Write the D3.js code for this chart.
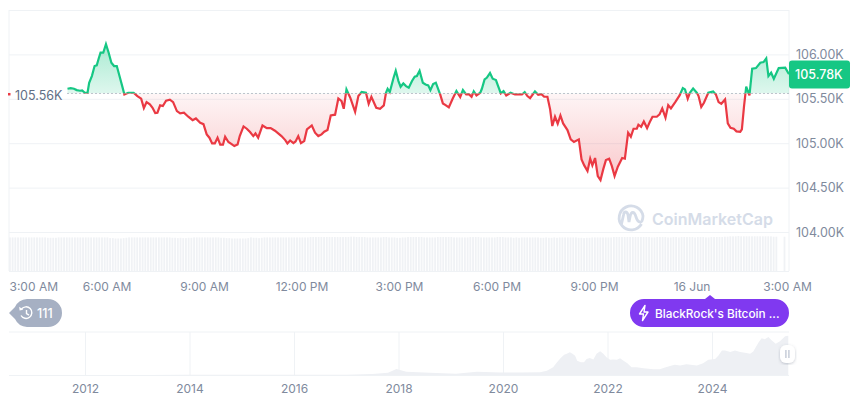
<!DOCTYPE html>
<html>
<head>
<meta charset="utf-8">
<script src="https://cdn.jsdelivr.net/npm/d3@7"></script>
<style>
  html, body { margin: 0; padding: 0; background: #fff; }
  svg { display: block; font-family: Inter, "Noto Sans", sans-serif; }
</style>
</head>
<body>
<div id="chart"></div>
<script>
// minutes after 3:00 AM
const minutes = [108,114,120,125,131,135,140,145,148,153,158,162,166,169,174,179,184,189,194,199,204,209,213,220,230,237,244,249,254,260,265,270,274,279,284,290,297,303,310,316,323,331,339,345,353,359,365,370,375,380,385,390,395,399,405,411,416,422,426,433,439,445,451,455,460,468,476,483,491,497,503,510,514,
  519,525,529,534,539,545,550,559,565,571,577,582,588,594,602,608,614,618,623,630,639,645,651,659,664,669,678,685,692,696,699,703,710,714,719,723,728,733,738,744,749,753,758,764,769,774,778,783,788,796,801,806,812,819,826,833,838,844,849,854,858,863,870,873,878,882,888,893,899,903,908,913,918,926,934,947,952,957,962,971,977,983,988,994,
  999,1003,1008,1013,1018,1023,1031,1037,1043,1052,1057,1062,1068,1073,1077,1082,1087,1092,1097,1102,1108,1113,1118,1124,1132,1137,1143,1148,1153,1159,1162,1167,1172,1178,1183,1188,1196,1201,1206,1212,1217,1222,1230,1238,1244,1248,1253,1257,1263,1270,1273,1278,1283,1291,1300,1305,1310,1315,1322,1327,1332,1338,1343,1350,1353,1357,1361,1367,1372,1379,1387,1393,1398,1402,1407,1412,1421,1433,1439];

// price in thousands of USD
const prices = [105.613,105.621,105.613,105.598,105.591,105.595,105.568,105.568,105.681,105.756,105.869,105.876,105.962,106.019,106.019,106.116,106.019,105.906,105.869,105.869,105.756,105.643,105.549,105.568,105.568,105.531,105.501,105.396,105.463,105.437,105.399,105.339,105.343,105.426,105.418,105.478,105.490,105.463,105.362,105.336,105.343,105.298,105.260,105.279,105.230,105.215,105.099,105.062,104.998,104.998,105.062,104.983,104.983,105.073,105.013,104.990,104.968,104.986,105.080,105.189,105.163,105.125,105.080,105.110,105.062,105.200,105.170,105.170,105.140,105.110,105.080,105.035,104.998,
  105.031,105.001,105.020,105.080,105.001,105.024,105.155,105.200,105.118,105.080,105.099,105.129,105.148,105.313,105.321,105.504,105.474,105.388,105.606,105.512,105.354,105.531,105.576,105.568,105.444,105.523,105.399,105.388,105.426,105.568,105.613,105.576,105.737,105.816,105.700,105.636,105.673,105.643,105.625,105.700,105.749,105.756,105.816,105.681,105.662,105.651,105.598,105.666,105.681,105.549,105.448,105.429,105.403,105.501,105.587,105.519,105.598,105.549,105.553,105.523,105.583,105.538,105.568,105.613,105.718,105.737,105.790,105.726,105.711,105.643,105.561,105.587,105.538,105.568,105.549,105.549,105.576,105.531,105.508,105.583,105.546,105.553,105.523,105.523,
  105.381,105.193,105.298,105.219,105.313,105.223,105.148,105.043,105.013,105.043,104.818,104.750,104.686,104.825,104.750,104.833,104.630,104.585,104.705,104.810,104.825,104.742,104.630,104.735,104.833,104.825,105.118,105.073,105.163,105.163,105.208,105.185,105.245,105.170,105.238,105.298,105.298,105.324,105.392,105.287,105.429,105.392,105.463,105.538,105.621,105.606,105.501,105.568,105.617,105.568,105.531,105.407,105.456,105.568,105.583,105.549,105.463,105.444,105.493,105.223,105.174,105.163,105.133,105.129,105.155,105.418,105.636,105.538,105.839,105.846,105.906,105.914,105.955,105.756,105.794,105.726,105.846,105.850,105.786];

const basePrice = 105.56;
const lastPrice = 105.78;

// one volume bar every 5 minutes, relative height
const volumes = [96,96,96,96,96,96,96,96,96,96,96,96,96,96,95,95,95,95,96,96,96,96,96,96,96,96,96,96,96,96,96,96,96,96,96,96,96,94,94,93,93,93,94,95,96,96,96,96,96,96,96,96,96,96,96,96,96,96,96,96,95,95,94,95,94,94,95,95,96,96,96,96,96,96,96,96,96,96,95,95,94,94,93,93,93,93,93,93,94,96,95,95,94,95,96,96,96,96,96,96,96,96,96,96,96,96,96,96,96,96,96,97,97,97,97,97,97,97,97,97,97,97,97,97,97,97,98,98,97,97,97,97,96,96,96,96,96,96,97,97,96,96,96,95,95,96,96,97,97,97,97,97,97,96,96,96,96,96,97,97,97,97,97,97,96,96,96,96,96,96,97,97,97,97,96,96,96,96,96,96,97,97,97,96,96,96,95,96,95,96,96,96,96,96,96,96,95,95,96,95,95,96,95,96,96,96,96,96,96,96,95,95,94,95,95,96,96,96,96,96,96,96,96,97,97,97,97,97,97,97,97,97,97,97,97,97,97,96,96,97,97,97,97,96,96,97,97,96,97,97,97,97,97,96,97,97,97,96,96,97,97,97,97,97,98,98,99,99,99,100,99,99,99,99,99,99,99,99,99,99,99,99,98,98,0,0,98];

const xTickMinutes = [0,180,360,540,720,900,1080,1260,1440];
const xTickLabels = ["3:00 AM","6:00 AM","9:00 AM","12:00 PM","3:00 PM","6:00 PM","9:00 PM","16 Jun","3:00 AM"];
const yTicks = [104,104.5,105,105.5,106,106.5];

// full history for the navigator at the bottom
const navYears = [2010.55,2012,2013.2,2013.9,2014.5,2016,2017,2017.5,2017.8,2017.96,2018.15,2018.6,2019.1,2019.5,2019.95,2020.3,2020.71,2020.84,2020.96,2021.03,2021.10,2021.17,2021.22,2021.28,2021.33,2021.38,2021.42,2021.49,2021.55,2021.60,2021.66,2021.73,2021.79,2021.86,2021.92,2021.98,2022.05,2022.11,2022.18,2022.24,2022.30,2022.38,2022.46,2022.56,2022.69,2022.88,2023.00,2023.10,2023.23,2023.29,2023.39,2023.51,2023.71,2023.83,2023.93,2024.06,2024.12,2024.19,2024.25,2024.35,2024.44,2024.54,2024.63,2024.73,2024.79,2024.89,2024.95,2025.01,2025.08,2025.14,2025.22,2025.30,2025.40,2025.46];
const navPrices = [0,0,0.1,0.8,0.5,0.5,1,2.5,6,17,9,6.5,3.5,9,7,7,7.6,12,22,35,47,57,60,64,60,54,40,36,36,45,48,44,60,67,60,50,43,44,43,47,41,33,22,22,19,16,16,21,27,29,27,30,27,33,43,45,54,69,69,65,69,65,63,60,66,92,104,101,107,98,88,95,109,111];
const navTicks = [2012,2014,2016,2018,2020,2022,2024];

const width = 860, height = 401;
const plotLeft = 9, plotRight = 789;
const gridColor = "#eff2f5", labelColor = "#808a9d";
const green = "#16c784", red = "#ea3943";

const svg = d3.select("#chart").append("svg")
  .attr("width", width)
  .attr("height", height);

const x = d3.scaleLinear().domain([0, 1440]).range([plotLeft, plotRight]);
const y = d3.scaleLinear().domain([104, 106.5]).range([232, 10]);
const yVol = d3.scaleLinear().domain([0, 100]).range([271, 236]);
const xNav = d3.scaleLinear().domain([2012, 2024]).range([85, 712]);
const yNav = d3.scaleLinear().domain([0, 110]).range([375, 336]);

const series = minutes.map((m, i) => ({ m: m, p: prices[i] }));
series.push({ m: 1440, p: lastPrice });

// gradients and clips either side of the open price
const defs = svg.append("defs");
function gradient(id, y1, y2, c, o1, o2) {
  const g = defs.append("linearGradient").attr("id", id)
    .attr("gradientUnits", "userSpaceOnUse")
    .attr("x1", 0).attr("x2", 0).attr("y1", y1).attr("y2", y2);
  g.append("stop").attr("offset", 0).attr("stop-color", c).attr("stop-opacity", o1);
  g.append("stop").attr("offset", 1).attr("stop-color", c).attr("stop-opacity", o2);
}
gradient("fillUp", y(106.1), y(basePrice), green, 0.36, 0.14);
gradient("fillDown", y(basePrice), y(104.6), red, 0.05, 0.27);

defs.append("clipPath").attr("id", "above").append("rect")
  .attr("x", plotLeft).attr("y", 0).attr("width", plotRight - plotLeft + 1).attr("height", y(basePrice));
defs.append("clipPath").attr("id", "below").append("rect")
  .attr("x", plotLeft).attr("y", y(basePrice)).attr("width", plotRight - plotLeft + 1).attr("height", 271 - y(basePrice));

defs.append("filter").attr("id", "handleShadow")
  .append("feDropShadow").attr("dx", 0).attr("dy", 1).attr("stdDeviation", 1.6)
  .attr("flood-color", "#58667e").attr("flood-opacity", 0.35);

// grid + right axis
const yAxis = svg.append("g")
  .attr("transform", `translate(${plotRight},0)`)
  .call(d3.axisRight(y).tickValues(yTicks)
    .tickSize(plotLeft - plotRight)
    .tickPadding(0)
    .tickFormat(d => d === 106.5 ? "" : d.toFixed(2) + "K"));
yAxis.select(".domain").remove();
yAxis.selectAll("line").attr("stroke", gridColor);
yAxis.selectAll("text")
  .attr("x", 7)
  .attr("fill", labelColor)
  .attr("font-size", 12.5)
  .attr("font-family", "Inter, sans-serif");

svg.append("g").selectAll("line")
  .data([plotLeft, plotRight])
  .join("line")
  .attr("x1", d => d).attr("x2", d => d)
  .attr("y1", 10).attr("y2", 271)
  .attr("stroke", gridColor);

// volume bars
svg.append("g").selectAll("rect")
  .data(volumes)
  .join("rect")
  .attr("x", (d, i) => x(i * 5))
  .attr("y", d => yVol(d))
  .attr("width", 1.8)
  .attr("height", d => yVol(0) - yVol(d))
  .attr("fill", "#f0f2f5");
svg.append("line")
  .attr("x1", plotLeft).attr("x2", plotRight)
  .attr("y1", 271.5).attr("y2", 271.5)
  .attr("stroke", gridColor);

// watermark
const mark = svg.append("g").attr("fill", "none").attr("stroke", "#d5dce8");
mark.append("path").attr("stroke-width", 2.8)
  .attr("d", "M641.5,224 A12,12 0 1 1 643,216 C642.6,225 638,223 636,217 C634.5,211 631,211 630,217 L629,222 L628,215 C627,211 624,211 623.5,215 L621.5,224");
svg.append("text")
  .attr("x", 652).attr("y", 225)
  .attr("font-size", 16).attr("font-weight", 600)
  .attr("fill", "#d5dce8")
  .text("CoinMarketCap");

// area + line, drawn twice and clipped at the open price
const area = d3.area().x(d => x(d.m)).y0(y(basePrice)).y1(d => y(d.p));
const line = d3.line().x(d => x(d.m)).y(d => y(d.p));

svg.append("path").datum(series).attr("clip-path", "url(#above)")
  .attr("d", area).attr("fill", "url(#fillUp)");
svg.append("path").datum(series).attr("clip-path", "url(#below)")
  .attr("d", area).attr("fill", "url(#fillDown)");

svg.append("line")
  .attr("x1", x(minutes[0])).attr("x2", plotRight)
  .attr("y1", y(basePrice)).attr("y2", y(basePrice))
  .attr("stroke", "#808a9d").attr("stroke-width", 1).attr("stroke-dasharray", "1 3");

svg.append("path").datum(series).attr("clip-path", "url(#above)")
  .attr("d", line).attr("fill", "none").attr("stroke", green).attr("stroke-width", 2.2);
svg.append("path").datum(series).attr("clip-path", "url(#below)")
  .attr("d", line).attr("fill", "none").attr("stroke", red).attr("stroke-width", 2.2);

// open price label on the left
svg.append("rect")
  .attr("x", plotLeft - 1).attr("y", y(basePrice) - 0.5).attr("width", 2.5).attr("height", 2.5)
  .attr("fill", red);
svg.append("text")
  .attr("x", 15).attr("y", y(basePrice) + 7)
  .attr("font-size", 12.5).attr("fill", "#616e85")
  .text(basePrice.toFixed(2) + "K");

// last price tag
svg.append("rect")
  .attr("x", plotRight).attr("y", y(lastPrice) - 13.5)
  .attr("width", 61).attr("height", 28).attr("rx", 3)
  .attr("fill", green);
svg.append("text")
  .attr("x", 795).attr("y", y(lastPrice) + 5)
  .attr("font-size", 12.5).attr("font-weight", 500).attr("fill", "#fff")
  .text(lastPrice.toFixed(2) + "K");

// time axis
const xAxis = svg.append("g")
  .attr("transform", "translate(0,271)")
  .call(d3.axisBottom(x).tickValues(xTickMinutes)
    .tickSize(0).tickPadding(11)
    .tickFormat((d, i) => xTickLabels[i]));
xAxis.select(".domain").remove();
xAxis.selectAll("text")
  .attr("fill", labelColor)
  .attr("font-size", 12)
  .attr("font-family", "Inter, sans-serif");
xAxis.selectAll(".tick").filter(d => d === 0).select("text").attr("text-anchor", "start");
xAxis.selectAll(".tick").filter(d => d === 1440).select("text").attr("dx", -2);

// event pills
svg.append("path")
  .attr("d", "M9,313 L15,307 A14,14 0 0 1 27,299 L48,299 A14,14 0 0 1 48,327 L27,327 A14,14 0 0 1 15,319 Z")
  .attr("fill", "#a6b0c3");
const clock = svg.append("g").attr("fill", "none").attr("stroke", "#fff").attr("stroke-width", 1.4);
clock.append("path").attr("d", "M21.5,309 A5.8,5.8 0 1 1 21,315.5");
clock.append("path").attr("d", "M26.5,310 L26.5,313.6 L29,315.2");
svg.append("path").attr("d", "M19.2,306.8 L19.6,310.6 L23.2,309.8 Z").attr("fill", "#fff");
svg.append("text")
  .attr("x", 37).attr("y", 317.5)
  .attr("font-size", 12.5).attr("font-weight", 500).attr("fill", "#fff")
  .text("111");

svg.append("path")
  .attr("d", "M710,295 L715,299 L775,299 A14,14 0 0 1 775,327 L644,327 A14,14 0 0 1 644,299 L705,299 Z")
  .attr("fill", "#8039f0");
svg.append("path")
  .attr("d", "M645,305.5 L639.5,314 L643.5,314 L642.5,320.5 L648,312 L644,312 Z")
  .attr("fill", "none").attr("stroke", "#fff").attr("stroke-width", 1.4).attr("stroke-linejoin", "round");
svg.append("text")
  .attr("x", 655).attr("y", 317.5)
  .attr("font-size", 11.8).attr("font-weight", 500).attr("fill", "#fff")
  .text("BlackRock's Bitcoin ...");

// navigator
svg.append("g").selectAll("line")
  .data([332, 375.5])
  .join("line")
  .attr("x1", plotLeft).attr("x2", plotRight)
  .attr("y1", d => d).attr("y2", d => d)
  .attr("stroke", gridColor);

const navAxis = svg.append("g")
  .attr("transform", "translate(0,375.5)")
  .call(d3.axisBottom(xNav).tickValues(navTicks)
    .tickSize(-43.5).tickPadding(9)
    .tickFormat(d3.format("d")));
navAxis.select(".domain").remove();
navAxis.selectAll("line").attr("stroke", gridColor);
navAxis.selectAll("text")
  .attr("fill", labelColor)
  .attr("font-size", 12)
  .attr("font-family", "Inter, sans-serif");

const navArea = d3.area()
  .x((d, i) => xNav(navYears[i]))
  .y0(yNav(0))
  .y1(d => yNav(d));
svg.append("path").datum(navPrices).attr("d", navArea).attr("fill", "#eef0f4");

// navigator handle
svg.append("rect")
  .attr("x", 780).attr("y", 345).attr("width", 15).attr("height", 18).attr("rx", 6)
  .attr("fill", "#fff").attr("filter", "url(#handleShadow)");
svg.append("g").selectAll("rect")
  .data([785.2, 788.2])
  .join("rect")
  .attr("x", d => d).attr("y", 350).attr("width", 1.4).attr("height", 8)
  .attr("fill", "#c4cad6");
</script>
</body>
</html>
